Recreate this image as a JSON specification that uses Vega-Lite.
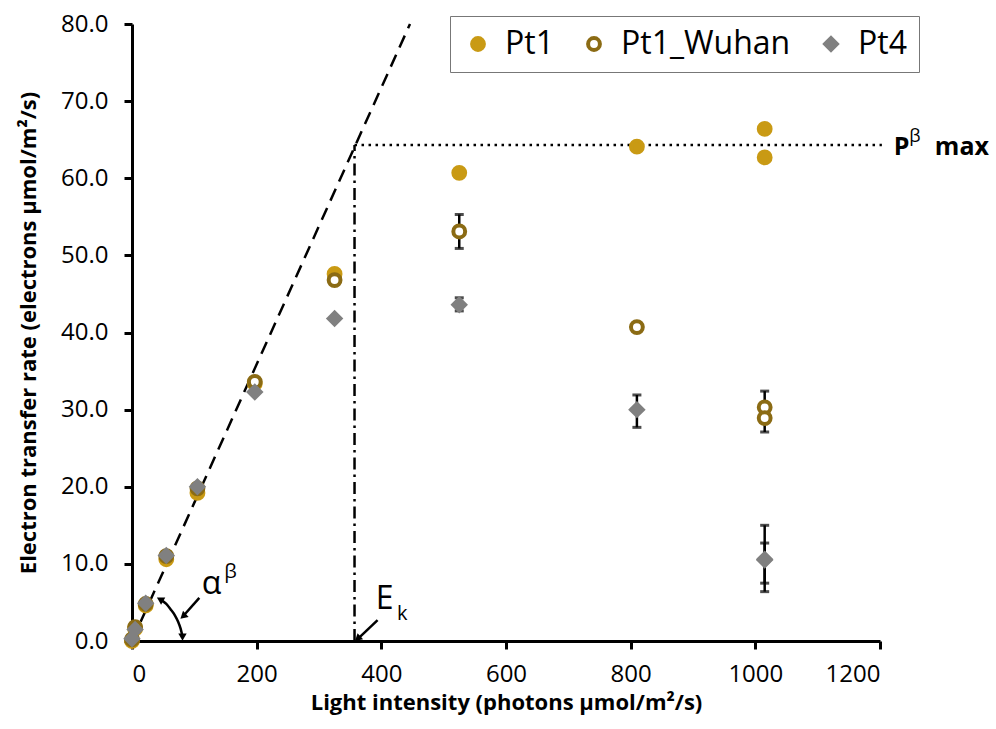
{
  "$schema": "https://vega.github.io/schema/vega-lite/v6.json",
  "width": 748,
  "height": 617,
  "autosize": "none",
  "padding": {"left": 132, "top": 24, "right": 116, "bottom": 88},
  "background": "white",
  "config": {
    "font": "Open Sans",
    "view": {"stroke": null},
    "axis": {"grid": false, "domainColor": "black", "domainWidth": 3, "tickColor": "black", "tickWidth": 3, "tickSize": 8, "labelColor": "black", "labelFontSize": 24, "titleColor": "black", "titleFontSize": 22, "titleFontWeight": "bold", "labelFont": "Open Sans", "titleFont": "Open Sans"}
  },
  "datasets": {
    "pts": [
      {"series": "Pt1", "x": 0, "y": 0},
      {"series": "Pt1", "x": 5, "y": 1.6},
      {"series": "Pt1", "x": 22, "y": 4.6},
      {"series": "Pt1", "x": 55, "y": 10.6},
      {"series": "Pt1", "x": 105, "y": 19.2},
      {"series": "Pt1", "x": 197, "y": 33.4},
      {"series": "Pt1", "x": 325, "y": 47.6},
      {"series": "Pt1", "x": 525, "y": 60.7},
      {"series": "Pt1", "x": 810, "y": 64.1},
      {"series": "Pt1", "x": 1015, "y": 66.4},
      {"series": "Pt1", "x": 1015, "y": 62.7},
      {"series": "Pt1_Wuhan", "x": 0, "y": 0.2},
      {"series": "Pt1_Wuhan", "x": 5, "y": 1.8},
      {"series": "Pt1_Wuhan", "x": 22, "y": 4.8},
      {"series": "Pt1_Wuhan", "x": 55, "y": 11.0},
      {"series": "Pt1_Wuhan", "x": 105, "y": 19.8},
      {"series": "Pt1_Wuhan", "x": 197, "y": 33.6},
      {"series": "Pt1_Wuhan", "x": 325, "y": 46.8},
      {"series": "Pt1_Wuhan", "x": 525, "y": 53.1, "lo": 50.9, "hi": 55.3},
      {"series": "Pt1_Wuhan", "x": 810, "y": 40.7},
      {"series": "Pt1_Wuhan", "x": 1015, "y": 30.3, "lo": 28.5, "hi": 32.4},
      {"series": "Pt1_Wuhan", "x": 1015, "y": 28.9, "lo": 27.1, "hi": 30.6},
      {"series": "Pt4", "x": 0, "y": 0.3},
      {"series": "Pt4", "x": 5, "y": 1.5},
      {"series": "Pt4", "x": 22, "y": 4.9},
      {"series": "Pt4", "x": 55, "y": 11.1},
      {"series": "Pt4", "x": 105, "y": 20.0},
      {"series": "Pt4", "x": 197, "y": 32.3},
      {"series": "Pt4", "x": 325, "y": 41.8},
      {"series": "Pt4", "x": 525, "y": 43.6, "lo": 42.8, "hi": 44.5},
      {"series": "Pt4", "x": 810, "y": 30.0, "lo": 27.7, "hi": 31.9},
      {"series": "Pt4", "x": 1015, "y": 10.6, "lo": 6.4, "hi": 15.0},
      {"series": "Pt4", "x": 1015, "y": 10.5, "lo": 7.5, "hi": 12.7}
    ],
    "arc": [
      {"x": 81, "y": 0.6, "o": 1},
      {"x": 78, "y": 1.6, "o": 2},
      {"x": 74, "y": 2.5, "o": 3},
      {"x": 69, "y": 3.3, "o": 4},
      {"x": 62, "y": 4.1, "o": 5},
      {"x": 55, "y": 4.8, "o": 6},
      {"x": 47, "y": 5.3, "o": 7}
    ]
  },
  "layer": [
    {
      "data": {"values": [{"x": 0, "y": 0, "x2": 446, "y2": 80}]},
      "mark": {"type": "rule", "strokeDash": [13, 8], "strokeWidth": 2.5, "color": "black"},
      "encoding": {
        "x": {"field": "x", "type": "quantitative", "scale": {"domain": [0, 1200]}, "axis": {"values": [0, 200, 400, 600, 800, 1000, 1200], "format": "d", "title": "Light intensity (photons µmol/m²/s)", "titlePadding": 6, "labelPadding": 13}},
        "y": {"field": "y", "type": "quantitative", "scale": {"domain": [0, 80]}, "axis": {"values": [0, 10, 20, 30, 40, 50, 60, 70, 80], "format": ".1f", "title": "Electron transfer rate (electrons µmol/m²/s)", "titlePadding": 20, "labelPadding": 16}},
        "x2": {"field": "x2"},
        "y2": {"field": "y2"}
      }
    },
    {
      "data": {"values": [{"x": 357, "x2": 1203, "y": 64.3}]},
      "mark": {"type": "rule", "strokeDash": [2.5, 4.5], "strokeWidth": 2.5, "color": "black", "clip": false},
      "encoding": {"x": {"field": "x", "type": "quantitative"}, "x2": {"field": "x2"}, "y": {"field": "y", "type": "quantitative"}}
    },
    {
      "data": {"values": [{"x": 357, "y": 0, "y2": 64.3}]},
      "mark": {"type": "rule", "strokeDash": [12, 5, 2.5, 5], "strokeWidth": 2.5, "color": "black"},
      "encoding": {"x": {"field": "x", "type": "quantitative"}, "y": {"field": "y", "type": "quantitative"}, "y2": {"field": "y2"}}
    },
    {
      "data": {"name": "pts"},
      "transform": [{"filter": "isValid(datum.lo)"}],
      "mark": {"type": "rule", "strokeWidth": 2.5, "color": "black"},
      "encoding": {"x": {"field": "x", "type": "quantitative"}, "y": {"field": "lo", "type": "quantitative"}, "y2": {"field": "hi"}}
    },
    {
      "data": {"name": "pts"},
      "transform": [{"filter": "isValid(datum.lo)"}],
      "mark": {"type": "tick", "orient": "horizontal", "size": 9, "thickness": 3, "color": "black"},
      "encoding": {"x": {"field": "x", "type": "quantitative"}, "y": {"field": "lo", "type": "quantitative"}}
    },
    {
      "data": {"name": "pts"},
      "transform": [{"filter": "isValid(datum.lo)"}],
      "mark": {"type": "tick", "orient": "horizontal", "size": 9, "thickness": 3, "color": "black"},
      "encoding": {"x": {"field": "x", "type": "quantitative"}, "y": {"field": "hi", "type": "quantitative"}}
    },
    {
      "data": {"name": "pts"},
      "mark": {"type": "point", "filled": false, "strokeWidth": 4, "opacity": 1},
      "encoding": {
        "x": {"field": "x", "type": "quantitative"},
        "y": {"field": "y", "type": "quantitative"},
        "fill": {"field": "series", "type": "nominal", "scale": {"domain": ["Pt1", "Pt1_Wuhan", "Pt4"], "range": ["#C99A14", "#ffffff", "#808080"]}, "legend": {"title": null}},
        "stroke": {"field": "series", "type": "nominal", "scale": {"domain": ["Pt1", "Pt1_Wuhan", "Pt4"], "range": ["#C99A14", "#8B6B14", "#808080"]}, "legend": {"title": null}},
        "shape": {"field": "series", "type": "nominal", "scale": {"domain": ["Pt1", "Pt1_Wuhan", "Pt4"], "range": ["circle", "circle", "diamond"]}, "legend": {"title": null, "orient": "none", "legendX": 318, "legendY": -8, "direction": "horizontal", "gridAlign": "none", "strokeColor": "#777777", "padding": 12, "labelFont": "Open Sans", "labelFontSize": 32, "labelLimit": 400, "labelColor": "black", "symbolSize": 130, "symbolStrokeWidth": 4, "columnPadding": 24, "labelOffset": 11}},
        "size": {"field": "series", "type": "nominal", "scale": {"domain": ["Pt1", "Pt1_Wuhan", "Pt4"], "range": [140, 140, 190]}, "legend": {"title": null}}
      }
    },
    {
      "data": {"name": "arc"},
      "mark": {"type": "line", "color": "black", "strokeWidth": 2.5, "interpolate": "monotone"},
      "encoding": {"x": {"field": "x", "type": "quantitative"}, "y": {"field": "y", "type": "quantitative"}, "order": {"field": "o"}}
    },
    {
      "data": {"values": [{"x": 108, "y": 5.6, "x2": 84, "y2": 3.4}, {"x": 394, "y": 2.7, "x2": 364, "y2": 0.4}]},
      "mark": {"type": "rule", "color": "black", "strokeWidth": 2.5},
      "encoding": {"x": {"field": "x", "type": "quantitative"}, "y": {"field": "y", "type": "quantitative"}, "x2": {"field": "x2"}, "y2": {"field": "y2"}}
    },
    {
      "data": {"values": [{"x": 82, "y": 3.2, "a": 228}, {"x": 362, "y": 0.3, "a": 228}, {"x": 81, "y": 0.5, "a": 180}, {"x": 45, "y": 5.4, "a": 300}]},
      "mark": {"type": "point", "shape": "triangle-up", "filled": true, "color": "black", "size": 70, "opacity": 1},
      "encoding": {"x": {"field": "x", "type": "quantitative"}, "y": {"field": "y", "type": "quantitative"}, "angle": {"field": "a", "type": "quantitative", "scale": null}}
    },
    {
      "data": {"values": [{"t": "α", "x": 112, "y": 7.4}, {"t": "E", "x": 391, "y": 5.4}]},
      "mark": {"type": "text", "fontSize": 32, "color": "black", "align": "left", "baseline": "middle"},
      "encoding": {"x": {"field": "x", "type": "quantitative"}, "y": {"field": "y", "type": "quantitative"}, "text": {"field": "t"}}
    },
    {
      "data": {"values": [{"t": "β", "x": 148, "y": 8.9}, {"t": "k", "x": 425, "y": 3.5}]},
      "mark": {"type": "text", "fontSize": 20, "color": "black", "align": "left", "baseline": "middle"},
      "encoding": {"x": {"field": "x", "type": "quantitative"}, "y": {"field": "y", "type": "quantitative"}, "text": {"field": "t"}}
    },
    {
      "data": {"values": [{"t": "P", "x": 1222, "y": 64.1}, {"t": "max", "x": 1288, "y": 64.1}]},
      "mark": {"type": "text", "fontSize": 25, "fontWeight": "bold", "color": "black", "align": "left", "baseline": "middle", "clip": false},
      "encoding": {"x": {"field": "x", "type": "quantitative"}, "y": {"field": "y", "type": "quantitative"}, "text": {"field": "t"}}
    },
    {
      "data": {"values": [{"t": "β", "x": 1247, "y": 65.4}]},
      "mark": {"type": "text", "fontSize": 18, "color": "black", "align": "left", "baseline": "middle", "clip": false},
      "encoding": {"x": {"field": "x", "type": "quantitative"}, "y": {"field": "y", "type": "quantitative"}, "text": {"field": "t"}}
    }
  ]
}
